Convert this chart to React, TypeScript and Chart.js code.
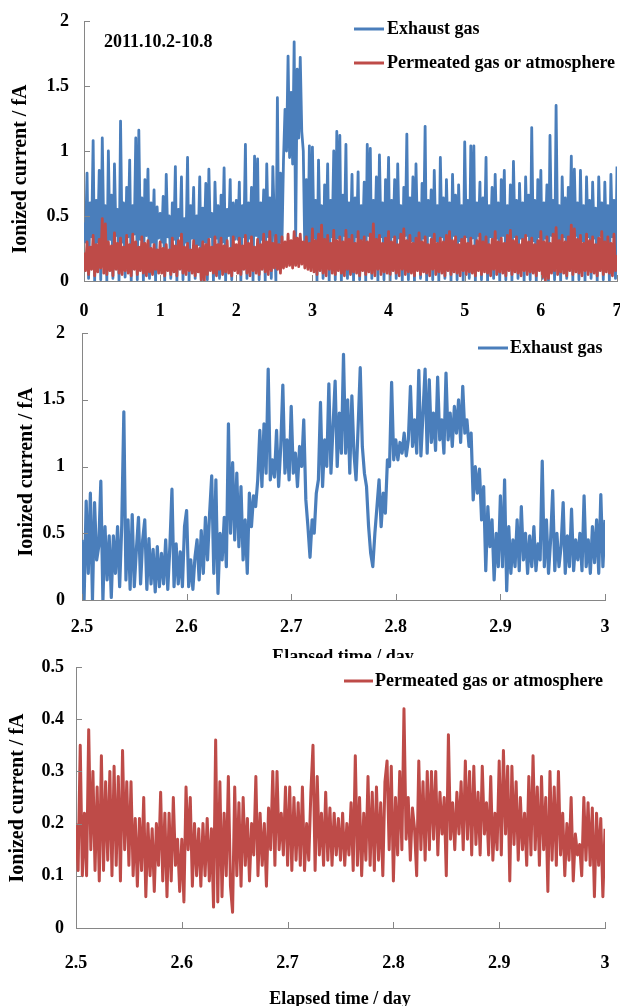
import { useEffect, useRef } from "react";
import { Chart, registerables } from "chart.js";

Chart.register(...registerables);

const FONT = '"Liberation Serif", "Times New Roman", serif';
const BLUE = "#4A7EBB";
const RED = "#BE4B48";
const AXIS = "#868686";

// ---- Data (values in hundredths of fA, i.e. 0.01 fA) ----
// Week overview 2011.10.2-10.8, sampled every 0.02 day from day 0
const weekStartDay = 0;
const weekStepDay = 0.02;
const weekExhaust = [
  45,30,83,2,60,34,108,0,62,30,85,1,110,36,58,0,100,32,66,2,90,35,55,0,123,30,60,3,72,34,93,0,58,36,110,1,116,32,64,0,78,35,86,2,60,30,70,0,57,33,
  52,30,65,0,82,34,50,2,60,32,88,0,55,35,80,1,48,30,95,0,58,33,72,2,50,28,80,0,56,30,75,1,86,34,52,0,76,33,58,2,66,30,87,0,55,35,78,1,60,32,
  62,32,76,0,58,34,105,2,60,33,72,0,96,35,94,1,60,32,70,0,90,34,64,2,88,
  45,0,141,10,83,30,93,132,100,173,95,145,90,184,30,163,110,172,115,100,22,78,18,104,20,
  103,33,62,0,93,35,58,2,74,31,90,0,62,34,100,1,115,33,112,0,66,35,105,2,60,30,82,0,64,34,84,1,58,32,76,0,105,35,102,2,62,31,80,0,97,34,60,1,78,33,
  95,0,62,34,78,2,90,33,58,0,72,35,113,1,64,31,80,0,90,34,60,2,75,33,119,0,62,35,70,1,85,31,58,0,95,34,64,2,78,33,60,0,82,35,66,1,74,31,58,0,
  107,34,62,2,104,33,104,0,60,35,76,1,64,31,95,0,58,34,72,2,82,33,60,0,78,35,85,1,58,31,74,0,92,34,62,2,75,33,60,0,80,35,66,1,118,31,62,0,78,34,
  85,2,60,33,74,0,112,35,62,1,135,31,58,0,80,34,64,2,72,33,96,0,86,35,60,1,85,31,58,0,80,34,62,2,76,33,56,0,80,35,60,1,76,31,58,0,82,34,62,2,88,
];
const weekPermeated = [
  22,8,30,5,26,9,35,4,28,7,32,10,48,6,44,5,30,8,27,4,37,9,29,6,33,5,26,8,35,6,28,4,36,9,30,5,26,8,34,6,29,4,31,7,25,5,28,9,24,6,
  30,6,25,4,28,8,24,5,33,7,27,4,31,9,36,6,26,5,29,8,24,6,31,4,27,7,25,1,30,0,28,5,32,8,26,6,34,4,28,9,33,5,27,7,31,6,25,4,34,8,
  28,6,33,5,27,9,35,6,29,4,34,8,26,6,32,5,28,9,36,7,30,5,38,8,29,10,35,9,28,6,34,10,30,11,36,12,31,10,38,12,33,11,36,13,30,10,34,9,29,8,
  40,7,31,5,36,8,43,6,32,4,35,9,29,6,39,5,31,8,34,6,30,4,39,9,32,5,35,7,29,6,38,4,31,8,34,5,30,7,36,6,44,4,32,9,35,5,29,7,33,6,
  38,5,30,8,34,6,28,4,36,9,40,5,31,7,35,6,29,4,33,8,37,5,30,7,34,6,28,4,32,9,36,5,29,7,33,6,30,4,35,8,38,5,31,7,34,6,28,4,32,8,
  34,5,29,7,33,6,27,4,31,8,36,5,30,7,34,6,28,4,32,9,38,5,30,7,33,6,29,4,35,8,39,5,31,7,34,6,28,4,32,8,35,5,30,7,33,6,28,4,31,8,
  38,3,30,0,34,2,29,6,36,8,41,5,31,7,35,6,30,4,34,8,43,5,40,7,32,6,35,4,29,8,36,5,31,7,34,6,28,4,33,8,38,5,30,7,34,6,29,4,36,8,20,
];

// Detail 2.5-3.0 day, sampled every 0.002 day from day 2.5
const zoomStartDay = 2.5;
const zoomStepDay = 0.002;
const zoomExhaust = [
  45,0,74,20,80,0,73,30,40,89,0,55,15,48,2,48,20,55,10,56,141,15,60,8,64,
  10,38,62,12,45,60,8,46,12,38,6,40,10,35,12,45,8,40,83,10,42,12,36,10,55,
  67,10,30,8,32,45,15,52,20,62,30,65,93,20,90,5,50,30,62,25,132,50,103,45,95,
  40,85,30,60,20,80,55,78,70,90,127,85,132,95,173,90,105,92,127,85,115,161,95,120,90,
  145,95,110,85,115,100,135,75,55,32,60,50,80,90,148,85,120,100,162,95,130,164,100,140,110,
  184,110,150,95,153,110,90,130,174,115,95,85,55,35,25,50,70,90,55,80,65,105,100,163,105,
  120,105,118,110,125,108,120,160,115,135,110,172,108,140,173,110,165,118,140,112,167,120,135,110,170,
  120,140,115,145,125,150,118,160,125,135,115,125,75,100,80,98,60,85,22,70,40,60,15,50,25,
  78,25,90,7,55,20,45,25,60,22,70,30,50,20,48,25,55,22,42,30,104,25,60,20,45,
  82,22,50,25,40,73,20,48,25,68,22,45,30,50,22,78,25,45,20,55,28,60,20,79,25,60,
];
const zoomPermeated = [
  20,11,35,10,22,10,38,15,30,11,27,9,33,11,28,13,30,10,31,12,29,9,34,15,28,
  12,28,10,21,8,21,11,25,6,20,10,19,7,20,12,26,9,22,6,22,9,25,12,17,7,
  17,5,27,15,25,8,20,10,19,8,20,10,21,9,19,4,36,5,28,6,22,10,29,8,3,
  27,10,24,8,25,12,21,9,20,14,29,10,22,12,20,8,23,15,30,12,30,15,22,14,27,
  12,27,11,25,13,24,12,27,11,20,13,26,35,11,29,14,22,12,26,13,23,12,22,14,21,
  13,22,12,20,14,24,11,33,12,25,10,22,13,29,12,26,11,27,13,24,10,28,32,15,31,
  9,25,14,30,15,42,17,25,13,23,19,10,32,15,28,13,30,15,30,17,30,14,26,18,25,
  10,37,17,24,15,26,18,28,15,32,17,30,14,31,16,26,14,31,18,24,14,29,13,22,15,
  32,14,34,18,31,9,31,16,28,13,25,15,22,12,29,14,33,15,27,12,29,15,25,7,30,
  13,27,12,30,14,22,10,20,13,25,9,18,14,16,10,25,13,24,12,23,6,22,12,21,6,19,
];

// Tick values
const weekXTicks = [0, 1, 2, 3, 4, 5, 6, 7];
const zoomXTicks = [2.5, 2.6, 2.7, 2.8, 2.9, 3];
const exhaustYTicks = [0, 0.5, 1, 1.5, 2];
const permeatedYTicks = [0, 0.1, 0.2, 0.3, 0.4, 0.5];

const Y_TITLE = "Ionized current / fA";
const X_TITLE = "Elapsed time / day";
const LBL_EXHAUST = "Exhaust gas";
const LBL_PERMEATED = "Permeated gas or atmosphere";
const DATE_NOTE = "2011.10.2-10.8";

type Series = { values: number[]; start: number; step: number; color: string; width: number; order: number; label: string };
type LegendItem = { label: string; color: string; x0: number; x1: number; tx: number; y: number };
type Panel = {
  top: number;
  height: number;
  area: { left: number; right: number; top: number; bottom: number };
  xMin: number; xMax: number; xTicks: number[];
  yMax: number; yTicks: number[];
  series: Series[];
  xPad: number; yPad: number;
  yTitle: { x: number; y: number };
  xTitle?: { x: number; y: number };
  legend: LegendItem[];
  note?: { text: string; x: number; y: number };
};

const W = 620;

const panels: Panel[] = [
  {
    top: 0, height: 320,
    area: { left: 84, right: 617, top: 21, bottom: 281 },
    xMin: 0, xMax: 7, xTicks: weekXTicks, yMax: 2, yTicks: exhaustYTicks,
    series: [
      { values: weekExhaust, start: weekStartDay, step: weekStepDay, color: BLUE, width: 2.8, order: 2, label: LBL_EXHAUST },
      { values: weekPermeated, start: weekStartDay, step: weekStepDay, color: RED, width: 2.8, order: 1, label: LBL_PERMEATED },
    ],
    xPad: 20, yPad: 15,
    yTitle: { x: 21, y: 169 },
    legend: [
      { label: LBL_EXHAUST, color: BLUE, x0: 354, x1: 384, tx: 387, y: 29 },
      { label: LBL_PERMEATED, color: RED, x0: 354, x1: 384, tx: 387, y: 63 },
    ],
    note: { text: DATE_NOTE, x: 104, y: 42 },
  },
  {
    top: 320, height: 338,
    area: { left: 82, right: 605, top: 13, bottom: 280 },
    xMin: 2.5, xMax: 3, xTicks: zoomXTicks, yMax: 2, yTicks: exhaustYTicks,
    series: [
      { values: zoomExhaust, start: zoomStartDay, step: zoomStepDay, color: BLUE, width: 3.2, order: 1, label: LBL_EXHAUST },
    ],
    xPad: 17, yPad: 17,
    yTitle: { x: 27, y: 152 },
    xTitle: { x: 343, y: 337 },
    legend: [{ label: LBL_EXHAUST, color: BLUE, x0: 478, x1: 508, tx: 510, y: 28 }],
  },
  {
    top: 658, height: 348,
    area: { left: 76, right: 605, top: 9, bottom: 270 },
    xMin: 2.5, xMax: 3, xTicks: zoomXTicks, yMax: 0.5, yTicks: permeatedYTicks,
    series: [
      { values: zoomPermeated, start: zoomStartDay, step: zoomStepDay, color: RED, width: 3.0, order: 1, label: LBL_PERMEATED },
    ],
    xPad: 25, yPad: 12,
    yTitle: { x: 18, y: 140 },
    xTitle: { x: 340, y: 341 },
    legend: [{ label: LBL_PERMEATED, color: RED, x0: 344, x1: 373, tx: 375, y: 23 }],
  },
];

const fmt = (v: number | string) => String(+Number(v).toFixed(2));

const decor = (p: Panel) => ({
  id: "decor",
  beforeDraw(chart: any) {
    const c = chart.ctx;
    c.save();
    c.fillStyle = "#ffffff";
    c.fillRect(0, 0, chart.width, chart.height);
    c.restore();
  },
  afterDraw(chart: any) {
    const c: CanvasRenderingContext2D = chart.ctx;
    const { left, bottom } = chart.chartArea;
    const xs = chart.scales.x;
    const ys = chart.scales.y;
    c.save();
    // inward tick marks
    c.strokeStyle = AXIS;
    c.lineWidth = 1;
    c.beginPath();
    for (const t of xs.ticks) {
      const px = Math.round(xs.getPixelForValue(t.value)) + 0.5;
      c.moveTo(px, bottom);
      c.lineTo(px, bottom - 6);
    }
    for (const t of ys.ticks) {
      const py = Math.round(ys.getPixelForValue(t.value)) + 0.5;
      c.moveTo(left, py);
      c.lineTo(left + 6, py);
    }
    c.stroke();

    c.fillStyle = "#000";
    // y title
    c.save();
    c.translate(p.yTitle.x, p.yTitle.y);
    c.rotate(-Math.PI / 2);
    c.font = `bold 20px ${FONT}`;
    c.textAlign = "center";
    c.textBaseline = "middle";
    c.fillText(Y_TITLE, 0, 0);
    c.restore();

    c.font = `bold 18px ${FONT}`;
    if (p.xTitle) {
      c.textAlign = "center";
      c.textBaseline = "middle";
      c.fillText(X_TITLE, p.xTitle.x, p.xTitle.y);
    }
    if (p.note) {
      c.textAlign = "left";
      c.textBaseline = "middle";
      c.fillText(p.note.text, p.note.x, p.note.y);
    }
    for (const it of p.legend) {
      c.strokeStyle = it.color;
      c.lineWidth = 3;
      c.beginPath();
      c.moveTo(it.x0, it.y);
      c.lineTo(it.x1, it.y);
      c.stroke();
      c.fillStyle = "#000";
      c.textAlign = "left";
      c.textBaseline = "middle";
      c.fillText(it.label, it.tx, it.y);
    }
    c.restore();
  },
});

function PanelChart({ p }: { p: Panel }) {
  const ref = useRef<HTMLCanvasElement>(null);
  useEffect(() => {
    const canvas = ref.current;
    if (!canvas) return;
    const tickFont = { family: FONT, size: 18, weight: "bold" as const };
    const chart = new Chart(canvas, {
      type: "line",
      data: {
        datasets: p.series.map((s) => ({
          label: s.label,
          data: s.values.map((v, i) => ({ x: s.start + i * s.step, y: v / 100 })),
          borderColor: s.color,
          backgroundColor: s.color,
          borderWidth: s.width,
          borderJoinStyle: "round" as const,
          pointRadius: 0,
          tension: 0,
          fill: false,
          order: s.order,
        })),
      },
      options: {
        animation: false,
        responsive: false,
        devicePixelRatio: 1,
        events: [],
        layout: { padding: { left: 0, right: W - p.area.right, top: p.area.top, bottom: 0 } },
        plugins: { legend: { display: false }, tooltip: { enabled: false }, title: { display: false } },
        scales: {
          x: {
            type: "linear",
            min: p.xMin,
            max: p.xMax,
            afterBuildTicks: (s: any) => { s.ticks = p.xTicks.map((v) => ({ value: v })); },
            afterFit: (s: any) => { s.height = p.height - p.area.bottom; s.paddingLeft = 0; s.paddingRight = 0; },
            grid: { display: false, drawTicks: false },
            border: { display: true, color: AXIS, width: 1 },
            ticks: { padding: p.xPad, maxRotation: 0, autoSkip: false, font: tickFont, color: "#000", callback: fmt },
          },
          y: {
            type: "linear",
            min: 0,
            max: p.yMax,
            afterBuildTicks: (s: any) => { s.ticks = p.yTicks.map((v) => ({ value: v })); },
            afterFit: (s: any) => { s.width = p.area.left; s.paddingTop = 0; s.paddingBottom = 0; },
            grid: { display: false, drawTicks: false },
            border: { display: true, color: AXIS, width: 1 },
            ticks: { padding: p.yPad, autoSkip: false, font: tickFont, color: "#000", callback: fmt },
          },
        },
      },
      plugins: [decor(p)],
    } as any);
    return () => chart.destroy();
  }, [p]);
  return (
    <canvas
      ref={ref}
      width={W}
      height={p.height}
      style={{ position: "absolute", left: 0, top: p.top, width: W, height: p.height, display: "block" }}
    />
  );
}

export default function App() {
  return (
    <div style={{ position: "absolute", left: 0, top: 0, width: W, height: 1006, background: "#fff", overflow: "hidden" }}>
      {panels.map((p, i) => (
        <PanelChart key={i} p={p} />
      ))}
    </div>
  );
}
